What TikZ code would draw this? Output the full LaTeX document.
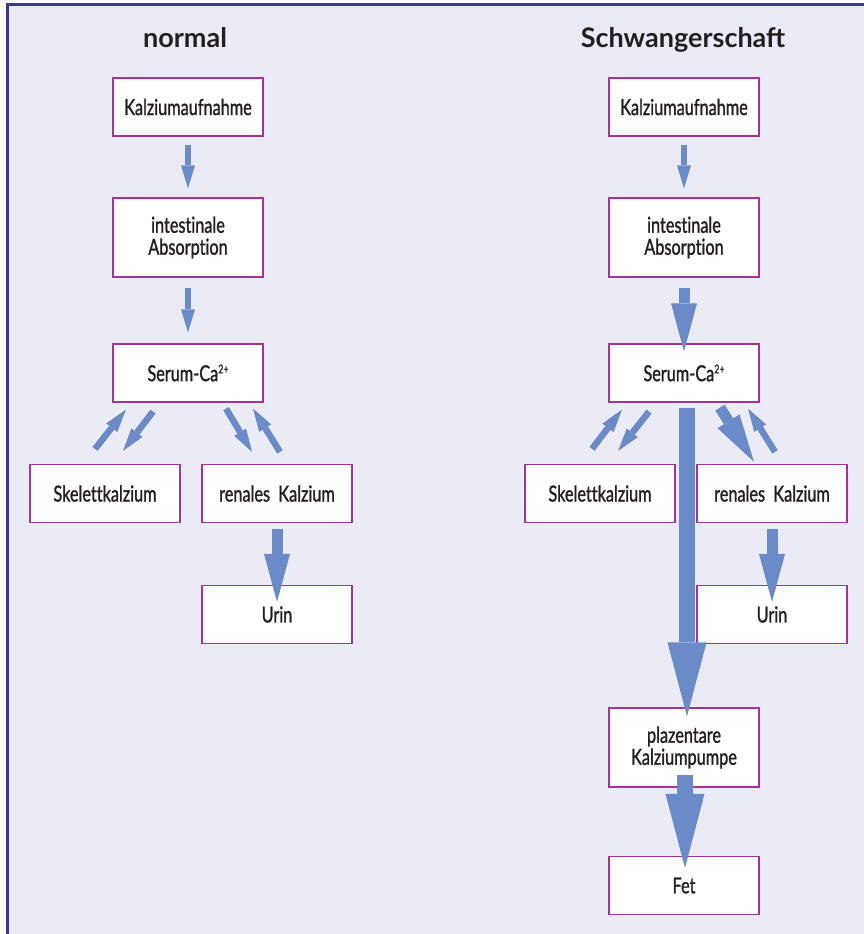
\documentclass[tikz,border=0pt]{standalone}
\usepackage{fontspec}
\setmainfont{Lato}
\newfontfamily\boxfont{Lato}[FakeStretch=0.74, FakeBold=1.2, Ligatures=CommonOff]
\usepackage{xcolor}
\definecolor{bgblue}{RGB}{235,235,246}
\definecolor{frameblue}{RGB}{58,58,150}
\definecolor{boxpurple}{RGB}{162,52,150}
\definecolor{arrblue}{RGB}{107,139,200}
\definecolor{txtgray}{RGB}{35,31,32}
\usetikzlibrary{arrows.meta,calc}
\newcommand{\ionsup}[1]{\raisebox{0.7ex}{\fontsize{12}{12}\selectfont #1}}

\begin{document}
\begin{tikzpicture}[x=1pt, y=-1pt,
  kbox/.style={rectangle, draw=boxpurple, line width=1.2pt, fill=white,
               minimum width=150pt, minimum height=58pt, inner sep=0pt,
               font=\boxfont\fontsize{22}{22}\selectfont, align=center, text=txtgray},
  hbox/.style={kbox, minimum height=79pt},
  hdr/.style={font=\fontsize{27}{30}\selectfont\bfseries, text=txtgray, anchor=base},
  sarr/.style={draw=arrblue, line width=6.5pt,
               -{Triangle[length=23pt, width=14pt, line width=0pt]}},
  marr/.style={draw=arrblue, line width=11pt,
               -{Triangle[length=48pt, width=26pt, line width=0pt]}},
  barr/.style={draw=arrblue, line width=16pt,
               -{Triangle[length=74pt, width=39pt, line width=0pt]}}
]
\useasboundingbox (0,0) rectangle (864,934);
% Frame
\fill[white] (0,0) rectangle (864,934);
\fill[bgblue] (7.5,5) rectangle (864,934);
\draw[frameblue, line width=3pt, line join=miter] (7.5,934) -- (7.5,5) -- (864,5);

% Headings
\node[hdr] (nhdr) at (185,48) {normal};
\node[hdr] (shdr) at (683,48) {Schwangerschaft};

% normal
\node[kbox] (nauf) at (188,107)   {Kalziumaufnahme};
\node[hbox] (nabs) at (188,237.5) {intestinale\\Absorption};
\node[kbox] (nser) at (188,373)   {Serum-Ca\ionsup{2+}};
\node[kbox] (nske) at (105,493.5) {Skelettkalzium};
\node[kbox] (nren) at (277,493.5) {renales\ \ Kalzium};
\node[kbox] (nuri) at (277,614.5) {Urin};

% Schwangerschaft
\node[kbox] (sauf) at (684,107)   {Kalziumaufnahme};
\node[hbox] (sabs) at (684,237.5) {intestinale\\Absorption};
\node[kbox] (sser) at (684,373)   {Serum-Ca\ionsup{2+}};
\node[kbox] (sske) at (600,493.5) {Skelettkalzium};
\node[kbox] (sren) at (772,493.5) {renales\ \ Kalzium};
\node[kbox] (suri) at (772,614.5) {Urin};
\node[hbox] (spla) at (684,747.5) {plazentare\\Kalziumpumpe};
\node[kbox] (sfet) at (684,885.5) {Fet};

% Arrows normal
\draw[sarr, shorten <=8pt, shorten >=9pt]   (nauf.south) -- (nabs.north);
\draw[sarr, shorten <=10pt, shorten >=11pt] (nabs.south) -- (nser.north);
\draw[sarr] ([shift={(-10,-15)}]nske.north) -- ([shift={(-62,7)}]nser.south);
\draw[sarr] ([shift={(-35,9)}]nser.south)   -- ([shift={(18,-13)}]nske.north);
\draw[sarr] ([shift={(38,6)}]nser.south)    -- ([shift={(-25,-12)}]nren.north);
\draw[sarr] ([shift={(3,-12)}]nren.north)   -- ([shift={(65,6)}]nser.south);
\draw[marr, shorten <=6pt, shorten >=-17pt] (nren.south) -- (nuri.north);

% Arrows Schwangerschaft
\draw[sarr, shorten <=8pt, shorten >=9pt]   (sauf.south) -- (sabs.north);
\draw[marr, shorten <=10pt, shorten >=-8pt] (sabs.south) -- (sser.north);
\draw[sarr] ([shift={(-8,-15)}]sske.north)  -- ([shift={(-62,7)}]sser.south);
\draw[sarr] ([shift={(-35,9)}]sser.south)   -- ([shift={(18,-13)}]sske.north);
\draw[marr] ([shift={(36,5)}]sser.south)    -- ([shift={(-18,-2)}]sren.north);
\draw[sarr] ([shift={(3,-12)}]sren.north)   -- ([shift={(64,6)}]sser.south);
\draw[marr, shorten <=6pt, shorten >=-17pt] (sren.south) -- (suri.north);
\draw[barr, shorten <=5pt, shorten >=-9pt]  ([xshift=3]sser.south) -- ([xshift=3]spla.north);
\draw[barr, shorten <=-13pt, shorten >=-12pt] ([xshift=1]spla.south) -- ([xshift=1]sfet.north);
\end{tikzpicture}
\end{document}
